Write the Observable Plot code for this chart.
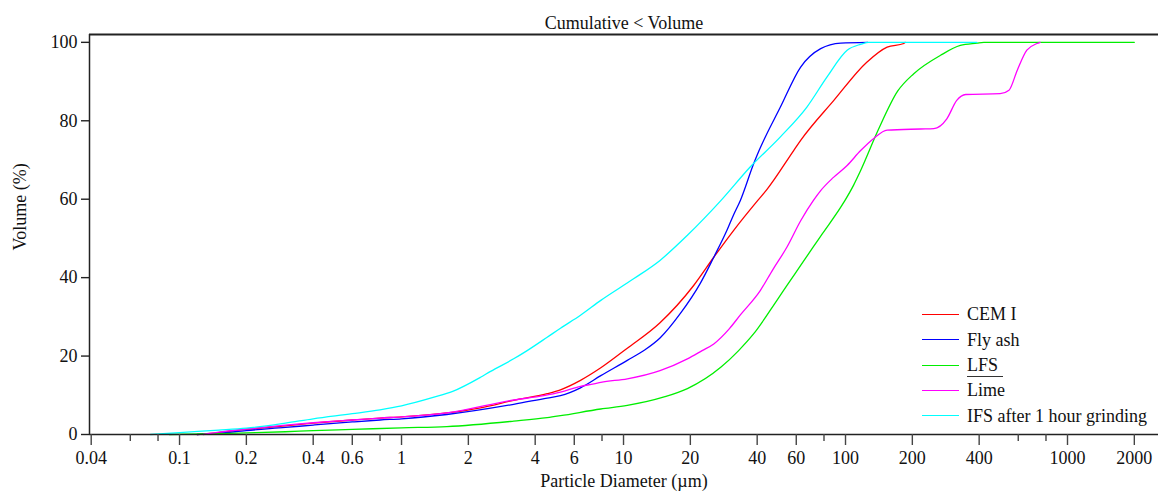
<!DOCTYPE html>
<html><head><meta charset="utf-8">
<script src="https://cdn.jsdelivr.net/npm/d3@7"></script>
<script src="https://cdn.jsdelivr.net/npm/@observablehq/plot@0.6"></script>
<style>
body{margin:0;background:#fff;}
#wrap{position:relative;width:1158px;height:498px;font-family:"Liberation Serif","Times New Roman",serif;}
#wrap svg{display:block;}
.legend{position:absolute;left:922px;top:301.6px;font-size:18px;color:#111;line-height:1;}
.row{display:flex;align-items:center;height:25.4px;white-space:nowrap;}
.sw{width:37px;height:0;border-top:1.5px solid;margin-right:8px;}
.bar{position:absolute;left:967px;top:376px;width:36px;border-top:1px solid #333;}
</style></head><body><div id="wrap"></div>
<script>
// ---- data (particle diameter in µm, cumulative volume in %) ----
const seriesNames = ["CEM I", "Fly ash", "LFS", "Lime", "IFS after 1 hour grinding"];
const seriesColors = ["#ff0000", "#0000ff", "#00ee00", "#ff00ff", "#00ffff"];

const cemD = [0.12, 0.15, 0.2, 0.3, 0.4, 0.6, 0.8, 1, 1.6, 2.27, 3.2, 4.53, 5.2, 6.4, 7.9, 10.4, 14.6, 20.7, 25.5, 31.3, 40, 44.3, 58.4, 62.8, 88.6, 125, 154, 183, 186];
const cemV = [0, 0.5, 1.3, 2.2, 2.9, 3.7, 4.2, 4.5, 5.5, 6.8, 8.7, 10.4, 11.4, 13.8, 17.0, 22.0, 28.5, 38, 45.2, 52, 59.5, 62.5, 72.4, 75, 85.2, 95, 98.8, 99.7, 100];

const flyD = [0.12, 0.15, 0.2, 0.3, 0.4, 0.6, 0.8, 1, 1.6, 3.2, 4.53, 5.2, 6.4, 7.9, 10.4, 12.5, 14.6, 18, 22.2, 25.5, 29.2, 31.3, 33.6, 38.6, 40.8, 50.9, 62.8, 77.3, 95.2, 126];
const flyV = [0, 0.3, 1.0, 1.8, 2.4, 3.2, 3.7, 4.0, 5.1, 7.7, 9.3, 9.9, 11.9, 15.0, 18.9, 21.6, 24.6, 30.8, 38.6, 45.2, 52, 56, 59.7, 69.1, 72.4, 83.5, 93.7, 98.4, 99.8, 100];

const lfsD = [0.09, 0.15, 0.2, 0.3, 0.4, 0.6, 1, 1.6, 3.2, 4.53, 5.2, 7.9, 10.4, 15.1, 19.4, 27.5, 33, 38.6, 49.1, 54.5, 62.8, 71.7, 78.7, 98.5, 108.8, 117, 140, 172, 203, 268, 329, 391, 420, 2000];
const lfsV = [0, 0.2, 0.4, 0.7, 1.0, 1.3, 1.7, 2.0, 3.4, 4.3, 4.8, 6.5, 7.4, 9.5, 11.7, 17.2, 21.4, 25.7, 34.2, 38, 43.1, 47.9, 51.2, 59.3, 63.6, 67.3, 77.5, 87.6, 92, 96.7, 99.2, 99.8, 100, 100];

const limeD = [0.128, 0.15, 0.2, 0.3, 0.4, 0.6, 0.8, 1, 1.6, 3.2, 4.37, 5.2, 6.4, 7.35, 7.9, 10.4, 14.6, 19.4, 22.6, 25.5, 30, 33.6, 41.3, 47, 54.5, 62.8, 71.7, 77.3, 88, 101.7, 117, 134, 154, 218, 250, 286, 317, 348, 497, 545, 594, 656, 729, 753];
const limeV = [0, 0.6, 1.4, 2.4, 3.0, 3.7, 4.2, 4.5, 5.5, 8.8, 9.9, 10.8, 12.3, 12.9, 13.3, 14.2, 16.3, 19.3, 21.4, 23.1, 27, 30.5, 36.7, 42, 47.8, 54.5, 59.7, 62.2, 65.5, 68.6, 72.4, 75.5, 77.6, 77.9, 78.0, 80.5, 85.2, 86.7, 86.9, 87.8, 92.9, 98.0, 99.7, 100];

const ifsD = [0.074, 0.1, 0.15, 0.2, 0.3, 0.4, 0.6, 0.8, 1, 1.4, 1.7, 2.27, 2.52, 3.2, 3.68, 4.53, 5.2, 6.4, 7.9, 11.1, 14.6, 19.4, 27.5, 37.2, 50.9, 67, 82.6, 101.7, 117, 127, 391];
const ifsV = [0, 0.5, 1.1, 1.6, 2.9, 4.0, 5.3, 6.3, 7.3, 9.5, 11.0, 14.6, 16.1, 19.3, 21.4, 24.8, 27.1, 30.4, 34.2, 39.7, 44.4, 50.8, 59.7, 68.2, 75.9, 83.5, 91.2, 98, 99.5, 100, 100];

const xTicksLabeled = [0.04, 0.1, 0.2, 0.4, 0.6, 1, 2, 4, 6, 10, 20, 40, 60, 100, 200, 400, 1000, 2000];
const xTicksMinor = [0.06, 0.08, 0.8, 8, 80, 600, 800];
const yTicks = [0, 20, 40, 60, 80, 100];
const xDomain = [0.0393, 2570];
const yDomain = [0, 102];

const titleText = "Cumulative < Volume";
const xLabel = "Particle Diameter (µm)";
const yLabel = "Volume (%)";

// ---- build table ----
const pairs = [[cemD, cemV], [flyD, flyV], [lfsD, lfsV], [limeD, limeV], [ifsD, ifsV]];
const rows = [];
pairs.forEach(([D, V], i) => D.forEach((d, j) => rows.push({series: seriesNames[i], d, v: V[j]})));

const axisStroke = "#222";
const plot = Plot.plot({
  width: 1158, height: 498,
  marginLeft: 89, marginRight: 0, marginTop: 34, marginBottom: 64,
  style: {fontFamily: "'Liberation Serif', 'Times New Roman', serif", fontSize: "18px", background: "#fff", color: "#111"},
  x: {type: "log", domain: xDomain},
  y: {domain: yDomain},
  color: {domain: seriesNames, range: seriesColors},
  marks: [
    Plot.line(rows, {x: "d", y: "v", z: "series", stroke: "series", strokeWidth: 1.3, curve: "monotone-x"}),
    Plot.ruleY([yDomain[0]], {stroke: axisStroke, strokeWidth: 1.5}),
    Plot.ruleY([yDomain[1]], {stroke: axisStroke, strokeWidth: 1.8}),
    Plot.ruleX([xDomain[0]], {stroke: axisStroke, strokeWidth: 1.5}),
    Plot.axisX(xTicksLabeled, {ticks: 1000, tickSize: 11, tickPadding: 6, tickFormat: d => String(d), label: null, stroke: "#444", strokeWidth: 1.4, fontSize: 18}),
    Plot.axisX(xTicksMinor, {ticks: 1000, tickSize: 7, tickFormat: () => "", label: null, stroke: "#444", strokeWidth: 1.4}),
    Plot.axisY(yTicks, {tickSize: 8, tickPadding: 4, label: null, stroke: "#222", strokeWidth: 1.4, fontSize: 18}),
    Plot.text([titleText], {text: d => d, frameAnchor: "top", dy: -18, fontSize: 18}),
    Plot.text([xLabel], {text: d => d, frameAnchor: "bottom", dy: 52, fontSize: 18}),
    Plot.text([yLabel], {text: d => d, frameAnchor: "left", dx: -69, dy: 16, rotate: -90, fontSize: 18})
  ]
});

const wrap = document.getElementById("wrap");
wrap.appendChild(plot);

// legend
const lg = document.createElement("div");
lg.className = "legend";
seriesNames.forEach((name, i) => {
  const r = document.createElement("div");
  r.className = "row";
  const sw = document.createElement("span");
  sw.className = "sw";
  sw.style.borderTopColor = seriesColors[i];
  const t = document.createElement("span");
  t.textContent = name;
  r.appendChild(sw); r.appendChild(t);
  lg.appendChild(r);
});
wrap.appendChild(lg);
const bar = document.createElement("div");
bar.className = "bar";
wrap.appendChild(bar);
</script>
</body></html>
